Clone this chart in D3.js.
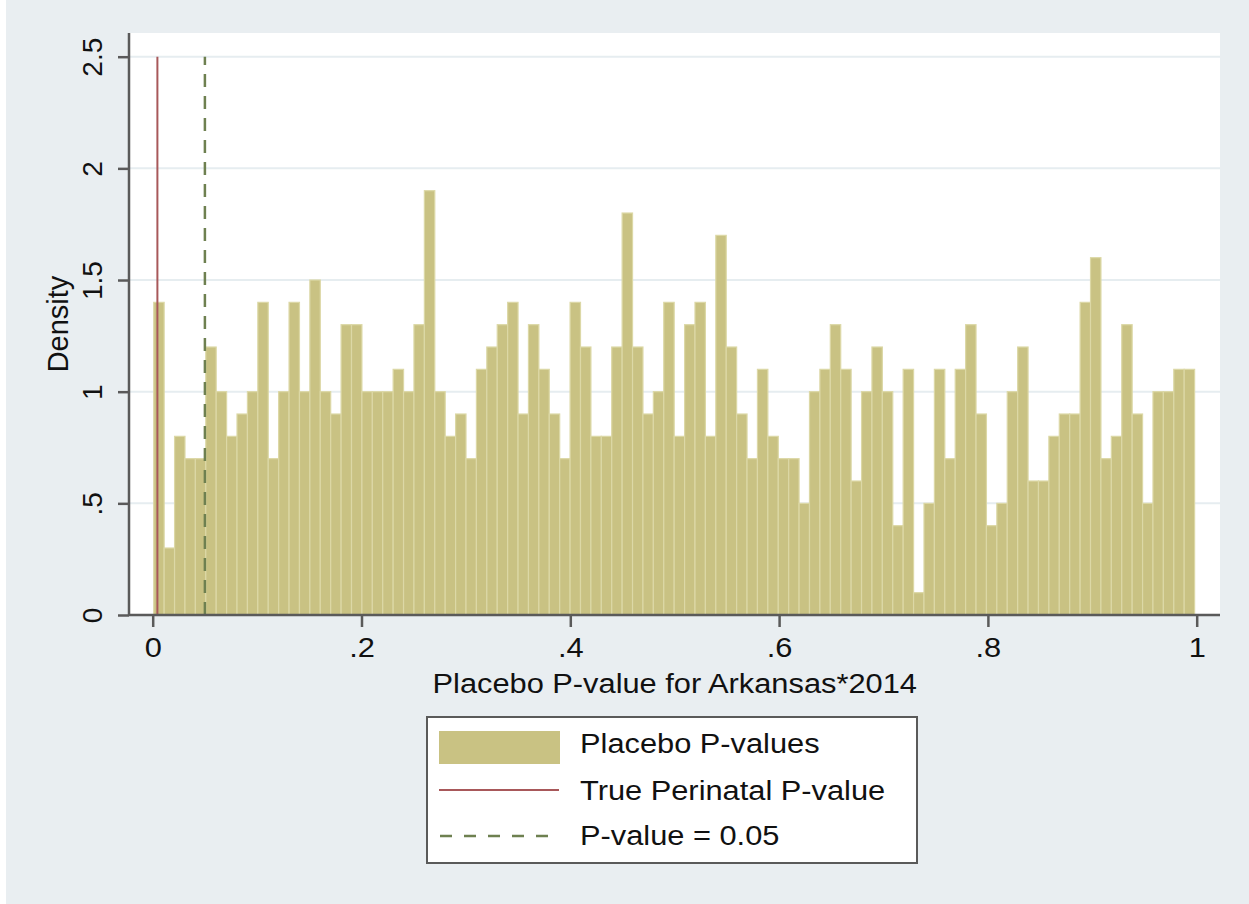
<!DOCTYPE html>
<html>
<head>
<meta charset="utf-8">
<script src="https://cdn.jsdelivr.net/npm/d3@7"></script>
<style>
  html, body { margin: 0; padding: 0; background: #e9eef1; }
  svg { display: block; }
  text { font-family: "Liberation Sans", Arial, Helvetica, sans-serif; fill: #111; }
</style>
</head>
<body>
<svg id="chart" width="1249" height="904"></svg>
<script>
// Histogram densities of placebo p-values, 100 equal-width bins
const densities = [
  1.4, 0.3, 0.8, 0.7, 0.7, 1.2, 1.0, 0.8, 0.9, 1.0,
  1.4, 0.7, 1.0, 1.4, 1.0, 1.5, 1.0, 0.9, 1.3, 1.3,
  1.0, 1.0, 1.0, 1.1, 1.0, 1.3, 1.9, 1.0, 0.8, 0.9,
  0.7, 1.1, 1.2, 1.3, 1.4, 0.9, 1.3, 1.1, 0.9, 0.7,
  1.4, 1.2, 0.8, 0.8, 1.2, 1.8, 1.2, 0.9, 1.0, 1.4,
  0.8, 1.3, 1.4, 0.8, 1.7, 1.2, 0.9, 0.7, 1.1, 0.8,
  0.7, 0.7, 0.5, 1.0, 1.1, 1.3, 1.1, 0.6, 1.0, 1.2,
  1.0, 0.4, 1.1, 0.1, 0.5, 1.1, 0.7, 1.1, 1.3, 0.9,
  0.4, 0.5, 1.0, 1.2, 0.6, 0.6, 0.8, 0.9, 0.9, 1.4,
  1.6, 0.7, 0.8, 1.3, 0.9, 0.5, 1.0, 1.0, 1.1, 1.1
];
const binStart = 0.001;
const binWidth = 0.00997;

// Reference lines
const truePValue = 0.0045;
const cutoffPValue = 0.05;

// Axis ticks
const xTicks = [0, 0.2, 0.4, 0.6, 0.8, 1];
const xTickLabels = ["0", ".2", ".4", ".6", ".8", "1"];
const yTicks = [0, 0.5, 1, 1.5, 2, 2.5];
const yTickLabels = ["0", ".5", "1", "1.5", "2", "2.5"];

// Text
const xTitle = "Placebo P-value for Arkansas*2014";
const yTitle = "Density";
const legendLabels = ["Placebo P-values", "True Perinatal P-value", "P-value = 0.05"];

const colors = {
  bar: "#c9c283",
  barEdge: "#dcd8a6",
  trueLine: "#a8585a",
  cutoffLine: "#6e8050",
  axis: "#5a5a5a",
  grid: "#e6edf0",
  plotBg: "#ffffff"
};

const svg = d3.select("#chart");
const textStretch = 1.1;

// left white strip of the canvas
svg.append("rect").attr("x", 0).attr("y", 0).attr("width", 6).attr("height", 904).attr("fill", "#ffffff");

const plot = { left: 129, right: 1220, top: 33, bottom: 615 };

const x = d3.scaleLinear().domain([0, 1]).range([152.7, 1196.7]);
const y = d3.scaleLinear().domain([0, 2.5]).range([615, 56.7]);

// plot region
svg.append("rect")
  .attr("x", plot.left).attr("y", plot.top)
  .attr("width", plot.right - plot.left).attr("height", plot.bottom - plot.top)
  .attr("fill", colors.plotBg);

// horizontal gridlines
svg.append("g").selectAll("line")
  .data(yTicks.slice(1))
  .join("line")
  .attr("x1", plot.left).attr("x2", plot.right)
  .attr("y1", d => y(d)).attr("y2", d => y(d))
  .attr("stroke", colors.grid).attr("stroke-width", 2);

// histogram bars
svg.append("g").selectAll("rect")
  .data(densities)
  .join("rect")
  .attr("x", (d, i) => x(binStart + i * binWidth))
  .attr("width", (d, i) => x(binStart + (i + 1) * binWidth) - x(binStart + i * binWidth))
  .attr("y", d => y(d))
  .attr("height", d => y(0) - y(d))
  .attr("fill", colors.bar)
  .attr("stroke", colors.barEdge)
  .attr("stroke-width", 1.2);

// reference lines
svg.append("line")
  .attr("x1", x(truePValue)).attr("x2", x(truePValue))
  .attr("y1", y(0)).attr("y2", y(2.5))
  .attr("stroke", colors.trueLine).attr("stroke-width", 2);

svg.append("line")
  .attr("x1", x(cutoffPValue)).attr("x2", x(cutoffPValue))
  .attr("y1", y(0)).attr("y2", y(2.5))
  .attr("stroke", colors.cutoffLine).attr("stroke-width", 2.5)
  .attr("stroke-dasharray", "13,9");

// x axis
const xAxis = d3.axisBottom(x)
  .tickValues(xTicks)
  .tickSize(12)
  .tickFormat((d, i) => xTickLabels[i]);
const gx = svg.append("g").attr("transform", `translate(0,${plot.bottom})`).call(xAxis);
gx.select(".domain").attr("d", `M${plot.left},0H${plot.right}`)
  .attr("stroke", colors.axis).attr("stroke-width", 2.5);
gx.selectAll(".tick line").attr("stroke", colors.axis).attr("stroke-width", 2.5);
gx.selectAll(".tick text")
  .attr("y", 0).attr("dy", null)
  .attr("transform", `translate(0,42) scale(${textStretch},1)`)
  .attr("font-size", 28).attr("fill", "#111")
  .attr("font-family", "Liberation Sans, Arial, Helvetica, sans-serif");

// y axis
const yAxis = d3.axisLeft(y)
  .tickValues(yTicks)
  .tickSize(11)
  .tickFormat((d, i) => yTickLabels[i]);
const gy = svg.append("g").attr("transform", `translate(${plot.left},0)`).call(yAxis);
gy.select(".domain").attr("d", `M0,${plot.bottom}V${plot.top}`)
  .attr("stroke", colors.axis).attr("stroke-width", 2.5);
gy.selectAll(".tick line").attr("stroke", colors.axis).attr("stroke-width", 2.5);
gy.selectAll(".tick text")
  .attr("x", 0).attr("dy", null)
  .attr("transform", "translate(-27,0) rotate(-90)")
  .attr("text-anchor", "middle")
  .attr("font-size", 28).attr("fill", "#111")
  .attr("font-family", "Liberation Sans, Arial, Helvetica, sans-serif");

// axis titles
svg.append("text")
  .attr("transform", `translate(${(x(0) + x(1)) / 2},693) scale(${textStretch},1)`)
  .attr("text-anchor", "middle")
  .attr("font-size", 28)
  .text(xTitle);

svg.append("text")
  .attr("transform", `translate(68,${(plot.top + plot.bottom) / 2}) rotate(-90)`)
  .attr("text-anchor", "middle")
  .attr("font-size", 29)
  .text(yTitle);

// legend
const legend = svg.append("g");
legend.append("rect")
  .attr("x", 427).attr("y", 717).attr("width", 490).attr("height", 146)
  .attr("fill", "#ffffff").attr("stroke", colors.axis).attr("stroke-width", 2);

legend.append("rect")
  .attr("x", 439).attr("y", 731).attr("width", 121).attr("height", 33)
  .attr("fill", colors.bar);

legend.append("line")
  .attr("x1", 439).attr("x2", 559).attr("y1", 790).attr("y2", 790)
  .attr("stroke", colors.trueLine).attr("stroke-width", 2);

legend.append("line")
  .attr("x1", 440).attr("x2", 560).attr("y1", 836).attr("y2", 836)
  .attr("stroke", colors.cutoffLine).attr("stroke-width", 2.5)
  .attr("stroke-dasharray", "12,12");

const legendBaselines = [753, 800, 845];
legend.selectAll("text.item")
  .data(legendLabels)
  .join("text")
  .attr("class", "item")
  .attr("transform", (d, i) => `translate(580,${legendBaselines[i]}) scale(${textStretch},1)`)
  .attr("font-size", 28)
  .text(d => d);
</script>
</body>
</html>
